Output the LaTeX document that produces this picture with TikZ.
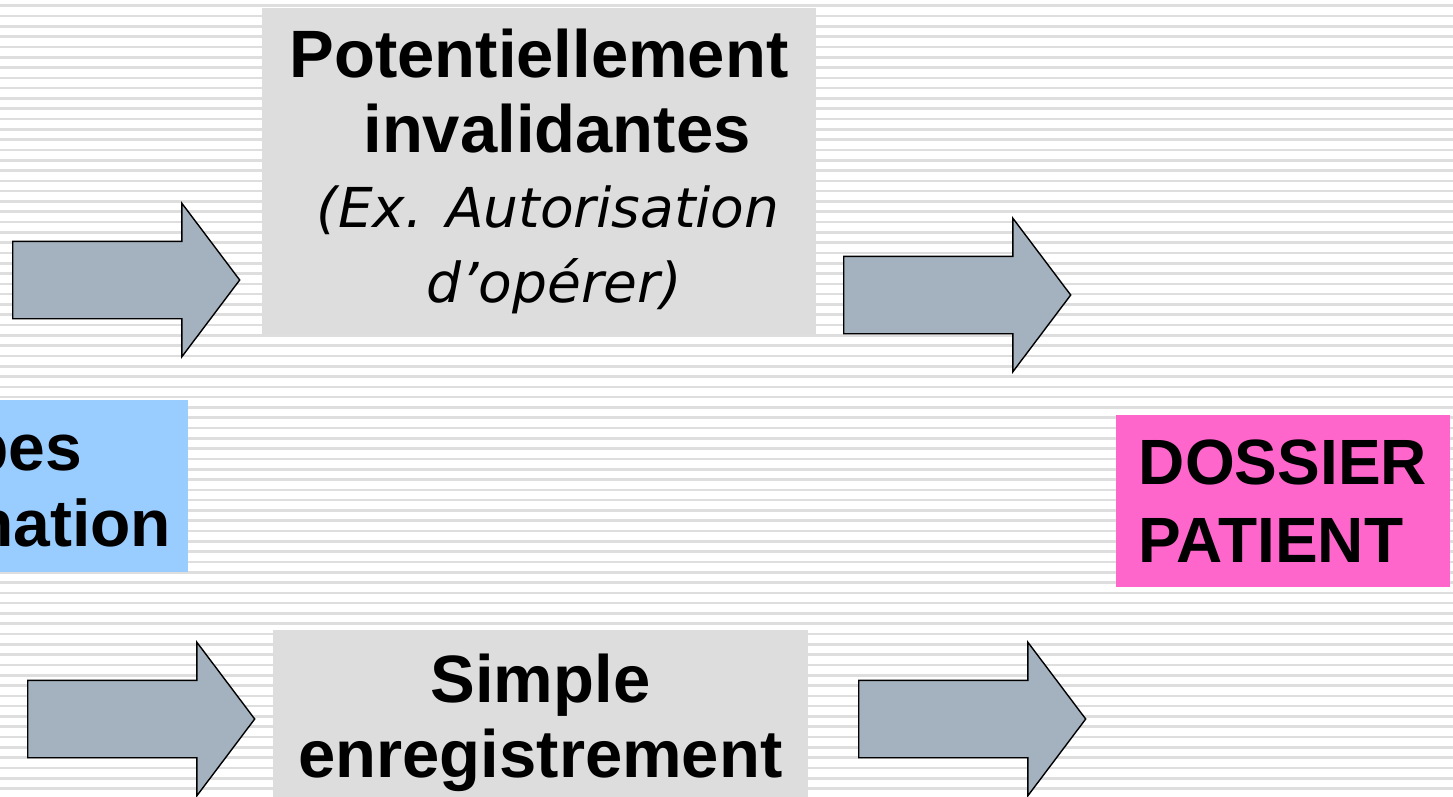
\documentclass[tikz,border=0pt]{standalone}
\usepackage{fontspec}
\setmainfont{Liberation Sans}
\newfontfamily\exfont{DejaVu Sans}
\usetikzlibrary{shapes.arrows}

\definecolor{stripegray}{RGB}{222,222,222}
\definecolor{boxgray}{RGB}{221,221,221}
\definecolor{infoblue}{RGB}{153,204,255}
\definecolor{patientpink}{RGB}{255,102,204}
\definecolor{arrowgray}{RGB}{164,178,192}

\begin{document}
\begin{tikzpicture}[x=1pt,y=-1pt]
\tikzstyle{stripe} = [stripegray, line width=2.6pt]
\tikzstyle{bigarrow} = [single arrow, draw=black, line width=1.4pt, fill=arrowgray,
minimum height=227pt, inner xsep=0pt, inner ysep=38pt, single arrow head extend=38pt,
single arrow tip angle=106, anchor=tail]
\tikzstyle{textbox} = [rectangle, fill=boxgray, inner sep=0pt, align=center,
font=\fontsize{67}{75}\selectfont\bfseries]
\tikzstyle{infobox} = [rectangle, fill=infoblue, inner sep=0pt, text width=226pt,
align=right, font=\fontsize{66}{76}\selectfont\bfseries]
\tikzstyle{patientbox} = [rectangle, fill=patientpink, inner sep=0pt, align=left,
font=\fontsize{64}{78}\selectfont\bfseries]
\newcommand{\exstyle}{\exfont\mdseries\itshape\fontsize{55}{75}\selectfont}

\useasboundingbox (0,0) rectangle (1453,796);
\clip (0,0) rectangle (1453,796);
\fill[white] (0,0) rectangle (1453,796);
% background lines
\foreach \k in {0,...,77}
  \draw[stripe] (0,5.7+10.3*\k) -- (1453,5.7+10.3*\k);

% boxes
\node[infobox, minimum width=260pt, minimum height=172pt] (types) at (58,486)
  {\vphantom{T}pes\rule{89pt}{0pt}\\nation};
\node[textbox, minimum width=554pt, minimum height=327pt] (invalid) at (539,171)
  {Potentiellement\\\hspace*{36pt}invalidantes\\
   {\exstyle\hspace*{18pt}(Ex. Autorisation}\\{\exstyle\hspace*{30pt}d’opérer)}};
\node[textbox, minimum width=535pt, minimum height=185pt] (simple) at (540.5,722.5)
  {Simple\\enregistrement};
\node[patientbox, minimum width=334pt, minimum height=172pt] (dossier) at (1283,501)
  {DOSSIER\\PATIENT};

% arrows
\node[bigarrow] (a1) at (12,280) {};
\node[bigarrow] (a2) at (843,295) {};
\node[bigarrow] (a3) at (27,719) {};
\node[bigarrow] (a4) at (858,719) {};
\end{tikzpicture}
\end{document}
